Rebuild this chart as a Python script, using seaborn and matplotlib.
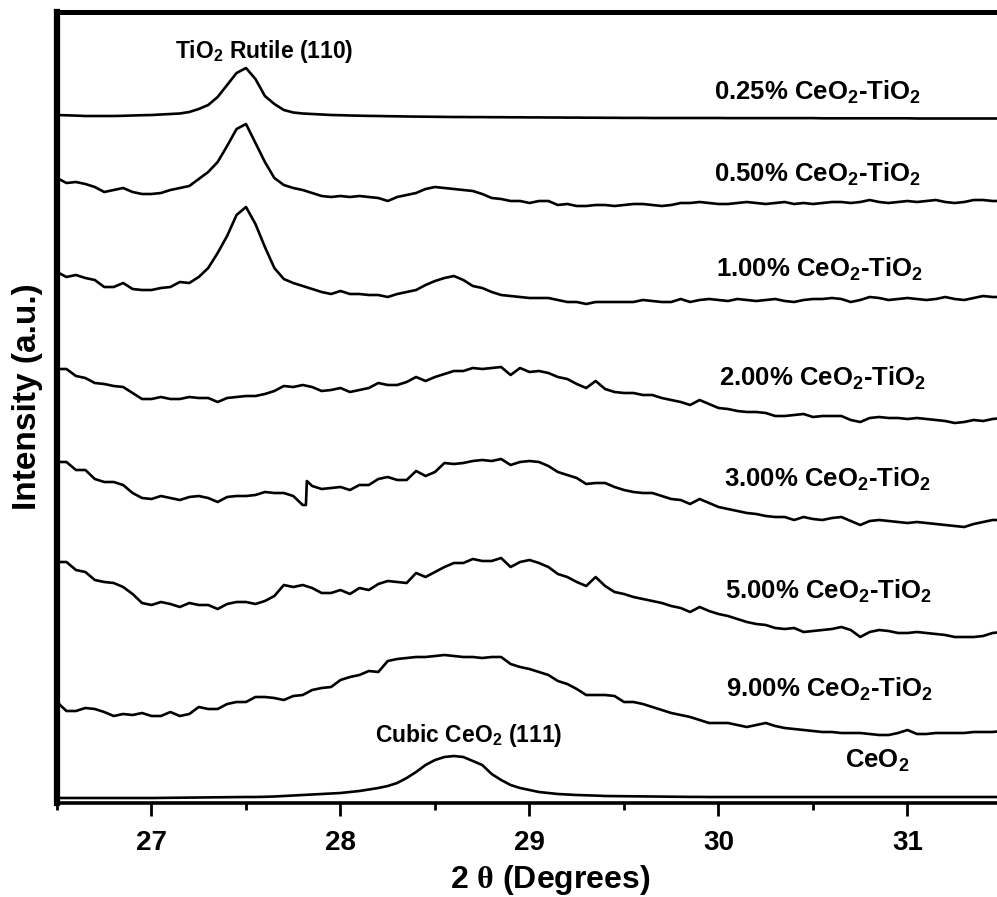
import numpy as np
import pandas as pd
import matplotlib
matplotlib.use("Agg")
import matplotlib.pyplot as plt
import seaborn as sns
from matplotlib.ticker import MultipleLocator

# ---------------- data (stacked intensities, a.u.) -------------
two_theta = np.linspace(26.5, 31.5, 101)

i_025 = [688, 687.7, 687.4, 687, 687, 687, 687, 687.2, 687.5, 687.8,
         688, 688.5, 689, 689.5, 691, 694, 698, 706, 718, 730,
         735, 724, 707, 699, 693, 690.5, 689.5, 689, 688.5, 688,
         687.8, 687.5, 687.3, 687.1, 687, 686.8, 686.7, 686.5, 686.4, 686.3,
         686.2, 686.1, 686, 686, 685.9, 685.9, 685.8, 685.8, 685.7, 685.7,
         685.6, 685.6, 685.5, 685.5, 685.4, 685.4, 685.3, 685.3, 685.2, 685.2,
         685.1, 685.1, 685.1, 685, 685, 685, 685, 685, 685, 685,
         685, 684.9, 684.9, 684.9, 684.9, 684.9, 684.9, 684.9, 684.9, 684.9,
         684.9, 684.7, 684.7, 684.7, 684.7, 684.7, 684.7, 684.7, 684.7, 684.7,
         684.7, 684.5, 684.5, 684.5, 684.5, 684.5, 684.5, 684.5, 684.5, 684.5, 684.5]

i_050 = [625, 620, 621, 619, 616, 611, 613, 615, 611, 609,
         609, 610, 613, 615, 617, 624, 631, 641, 657, 674,
         679, 660, 641, 625, 618, 615, 613, 610, 607, 606,
         607, 606, 607, 606, 605, 602, 606, 608, 610, 614,
         616, 615, 614, 613, 612, 609, 605, 604, 602, 602,
         600, 602, 602, 598, 599, 597, 597, 598, 598, 597,
         598, 599, 599, 598, 597, 598, 600, 600, 601, 600,
         599, 599, 600, 601, 600, 599, 600, 601, 599, 600,
         599, 600, 601, 601, 600, 601, 603, 601, 600, 601,
         602, 601, 602, 603, 601, 600, 601, 603, 603, 602, 602]

i_100 = [531, 526, 528, 525, 523, 516, 516, 520, 514, 513,
         513, 515, 516, 521, 520, 526, 535, 550, 567, 588,
         596, 579, 556, 535, 524, 520, 517, 514, 511, 509,
         512, 509, 509, 508, 508, 506, 509, 511, 513, 518,
         522, 525, 527, 523, 517, 515, 511, 508, 507, 506,
         505, 505, 505, 503, 501, 501, 499, 501, 501, 501,
         501, 501, 503, 502, 501, 501, 504, 501, 503, 504,
         503, 502, 504, 503, 502, 503, 504, 502, 501, 503,
         504, 504, 505, 504, 501, 503, 506, 505, 503, 504,
         505, 504, 503, 504, 506, 504, 503, 505, 507, 506, 506]

i_200 = [434, 434, 427, 425, 420, 419, 417, 416, 410, 404,
         404, 406, 404, 404, 406, 405, 405, 401, 405, 406,
         407, 407, 409, 412, 417, 416, 418, 416, 412, 413,
         415, 411, 413, 415, 420, 418, 418, 421, 426, 422,
         426, 429, 432, 432, 435, 434, 435, 436, 428, 435,
         431, 432, 430, 426, 424, 419, 415, 422, 414, 411,
         410, 410, 408, 408, 405, 403, 401, 398, 403, 399,
         395, 394, 392, 391, 391, 390, 387, 387, 388, 389,
         386, 387, 387, 387, 383, 381, 385, 386, 385, 385,
         384, 385, 384, 383, 382, 380, 381, 383, 382, 384, 385]

i_300 = [341, 341, 333, 333, 324, 321, 321, 318, 310, 305,
         304, 307, 305, 303, 306, 307, 305, 301, 306, 307,
         307, 308, 311, 310, 310, 307, 298, 317, 314, 315,
         316, 313, 318, 318, 324, 326, 323, 323, 332, 327,
         331, 340, 339, 340, 342, 343, 342, 344, 338, 341,
         342, 341, 337, 331, 328, 325, 319, 320, 320, 316,
         313, 311, 310, 310, 307, 304, 303, 299, 304, 300,
         296, 294, 292, 290, 289, 287, 286, 286, 283, 286,
         284, 283, 285, 286, 282, 278, 282, 283, 282, 281,
         280, 281, 280, 279, 278, 277, 276, 279, 281, 283, 283]
# sharp instrument glitch in the 3.00 % pattern near 27.82 deg
glitch_theta = [27.817, 27.822]
glitch_int = [298, 322]

i_500 = [241, 241, 233, 231, 223, 221, 220, 216, 209, 200,
         198, 201, 199, 196, 200, 198, 198, 194, 199, 201,
         201, 199, 202, 207, 218, 216, 218, 215, 210, 210,
         213, 209, 215, 213, 219, 222, 221, 220, 230, 226,
         231, 236, 240, 240, 244, 242, 242, 245, 236, 241,
         243, 240, 236, 229, 226, 221, 217, 226, 217, 211,
         209, 206, 204, 202, 200, 197, 195, 191, 196, 192,
         189, 187, 184, 181, 179, 178, 175, 174, 175, 171,
         172, 173, 174, 176, 173, 166, 171, 173, 172, 170,
         170, 171, 170, 169, 168, 166, 166, 166, 167, 170, 171]

i_900 = [101, 92, 92, 95, 94, 91, 87, 89, 88, 90,
         87, 87, 91, 87, 89, 96, 94, 94, 99, 101,
         101, 106, 106, 105, 103, 107, 108, 113, 115, 116,
         123, 126, 128, 132, 131, 142, 144, 145, 146, 146,
         147, 148, 147, 146, 146, 145, 146, 146, 139, 136,
         134, 131, 128, 122, 119, 114, 108, 108, 108, 107,
         101, 101, 99, 96, 93, 90, 88, 86, 83, 80,
         80, 80, 78, 76, 78, 80, 77, 75, 74, 73,
         72, 71, 71, 70, 70, 70, 69, 68, 68, 70,
         73, 69, 69, 70, 70, 70, 70, 71, 71, 71, 72]

i_ceo2 = [5, 5, 5, 5, 5, 5, 5, 5, 5, 5,
          5, 5.1, 5.2, 5.3, 5.4, 5.5, 5.6, 5.7, 5.8, 5.9,
          6, 6, 6.2, 6.5, 7, 7.5, 8, 8.5, 9, 9.5,
          10, 11, 12, 13.5, 15, 17, 20, 25, 31, 38,
          43, 46, 47, 46, 42, 38, 29, 23, 18, 15,
          13, 11, 10, 9, 8.5, 8, 7.7, 7.4, 7, 6.9,
          6.8, 6.7, 6.6, 6.5, 6.4, 6.3, 6.2, 6.1, 6.1, 6,
          6, 6, 6, 6, 6, 6, 6, 6, 6, 6,
          6, 6, 6, 6, 6, 6, 6, 6, 6, 6,
          6, 6, 6, 6, 6, 6, 6, 6, 6, 6, 6]

sample_names = ["0.25% CeO$_2$-TiO$_2$", "0.50% CeO$_2$-TiO$_2$", "1.00% CeO$_2$-TiO$_2$",
                "2.00% CeO$_2$-TiO$_2$", "3.00% CeO$_2$-TiO$_2$", "5.00% CeO$_2$-TiO$_2$",
                "9.00% CeO$_2$-TiO$_2$", "CeO$_2$"]
label_theta = [29.976, 29.976, 29.987, 30.003, 30.029, 30.034, 30.040, 30.669]
label_int = [703, 621, 526, 417, 316, 204, 106, 35]

peak_names = ["TiO$_2$ Rutile (110)", "Cubic CeO$_2$ (111)"]
peak_theta = [27.124, 28.183]
peak_int = [745, 61]

x_ticks = [27, 28, 29, 30, 31]

# ---------------- build a long table ----------------
frames = []
series = [i_025, i_050, i_100, i_200, i_300, i_500, i_900, i_ceo2]
for name, vals in zip(sample_names, series):
    th = list(two_theta)
    iv = list(vals)
    if name.startswith("3.00"):
        th = th + glitch_theta
        iv = iv + glitch_int
    d = pd.DataFrame({"two_theta": th, "intensity": iv, "sample": name})
    d = d.sort_values("two_theta", kind="stable")
    frames.append(d)
df = pd.concat(frames, ignore_index=True)

# ---------------- style ----------------
sns.set_theme(style="white")
plt.rcParams['font.family'] = ['Liberation Sans', 'DejaVu Sans']
plt.rcParams['font.weight'] = 'bold'
plt.rcParams['mathtext.fontset'] = 'custom'
plt.rcParams['mathtext.rm'] = 'Liberation Sans:bold'
plt.rcParams['mathtext.it'] = 'Liberation Sans:bold'
plt.rcParams['mathtext.bf'] = 'Liberation Sans:bold'
plt.rcParams['mathtext.sf'] = 'Liberation Serif'
plt.rcParams['mathtext.default'] = 'rm'

fig = plt.figure(figsize=(9.97, 8.97), dpi=100)
fig.patch.set_facecolor("white")
ax = fig.add_axes([57 / 997, 94 / 897, 945 / 997, 791 / 897])

sns.lineplot(data=df, x="two_theta", y="intensity", units="sample", estimator=None,
             sort=False, color="black", linewidth=1.9, ax=ax, legend=False)
for ln in ax.get_lines():
    ln.set_solid_joinstyle("round")

ax.set_xlim(26.5, 31.5)
ax.set_ylim(0, 791)

# spines
for side, lw in [("left", 4.5), ("top", 3.6), ("bottom", 2.6), ("right", 2.6)]:
    ax.spines[side].set_visible(True)
    ax.spines[side].set_color("black")
    ax.spines[side].set_linewidth(lw)

ax.set_xticks(x_ticks)
ax.xaxis.set_minor_locator(MultipleLocator(0.5))
ax.tick_params(axis="x", which="major", bottom=True, direction="out", length=9.5,
               width=2, color="black", labelsize=20, pad=10, labelcolor="black")
ax.tick_params(axis="x", which="minor", bottom=True, direction="out", length=5,
               width=2, color="black")
ax.set_yticks([])
for lab in ax.get_xticklabels():
    lab.set_fontweight("bold")

ax.set_xlabel(r"2 $\mathsf{\theta}$ (Degrees)", fontsize=23, fontweight="bold", color="black")
ax.xaxis.set_label_coords(0.5217, -0.076)
ax.set_ylabel("Intensity (a.u.)", fontsize=24, fontweight="bold", color="black")
ax.yaxis.set_label_coords(-0.0145, 0.514)

for name, tx, ty in zip(sample_names, label_theta, label_int):
    ax.text(tx, ty, name, fontsize=18.5, fontweight="bold", ha="left", va="baseline",
            color="black")
for name, tx, ty in zip(peak_names, peak_theta, peak_int):
    ax.text(tx, ty, name, fontsize=16.5, fontweight="bold", ha="left", va="baseline",
            color="black")

fig.savefig("out.png", dpi=100, facecolor="white")
